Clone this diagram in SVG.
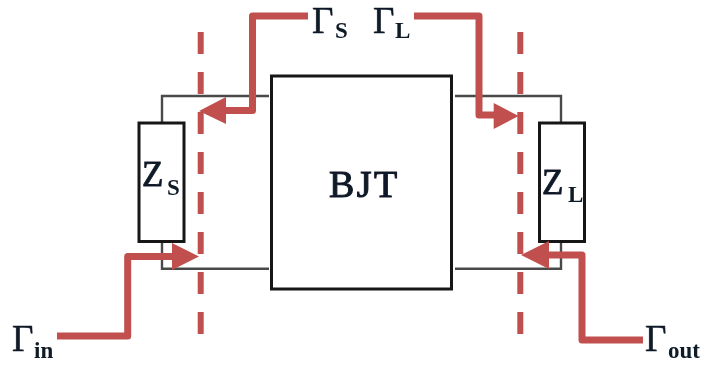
<svg xmlns="http://www.w3.org/2000/svg" width="702" height="366" viewBox="0 0 702 366">
<style>
.box{fill:#fff;stroke:#151515;stroke-width:3}
.wire{fill:none;stroke:#4a4a4a;stroke-width:2.4}
.dash{fill:none;stroke:#c0504d;stroke-width:6;stroke-dasharray:22 18}
.ray{fill:none;stroke:#c0504d;stroke-width:7;stroke-linejoin:round}
.head{fill:#c0504d}
text{font-family:"Liberation Serif","DejaVu Serif",serif;fill:#111a26}
.g{font-size:37px;stroke:#111a26;stroke-width:.5}
.z{font-size:35px;stroke:#111a26;stroke-width:.8}
.sub{font-size:23px;font-weight:700}
.bjt{font-size:38px;letter-spacing:2.4px;stroke:#111a26;stroke-width:1}
</style>
<defs><filter id="soft" x="-10%" y="-10%" width="120%" height="120%"><feGaussianBlur stdDeviation="0.6"/></filter></defs>
<g id="wires" filter="url(#soft)">
<path class="wire" d="M269 96H162V122M162 243V268.700H269"/>
<path class="wire" d="M455 96H561V122M561 243V268.700H455"/>
</g>
<g id="bjt" filter="url(#soft)"><rect class="box" x="271.500" y="76" width="180" height="213"/></g>
<g id="zs" filter="url(#soft)"><rect class="box" x="139" y="123" width="45" height="118.500"/></g>
<g id="zl" filter="url(#soft)"><rect class="box" x="539.500" y="123" width="45" height="118.500"/></g>
<g id="connectors" filter="url(#soft)">
<path class="dash" d="M200.700 32V336"/>
<path class="dash" d="M520.300 32V336"/>
<path class="ray" d="M308 16H252.500V110.500H222"/>
<polygon class="head" points="199,111 226,97 226,124"/>
<path class="ray" d="M414 16H479V115H497"/>
<polygon class="head" points="518.700,116 493.700,103 493.700,129"/>
<path class="ray" d="M57 336H127.700V256.500H176"/>
<polygon class="head" points="199,256.500 172,243 172,270"/>
<path class="ray" d="M643 340H582V255H545"/>
<polygon class="head" points="521,255 549,241 549,269"/>
</g>
<g id="labels" filter="url(#soft)">
<text class="bjt" x="329" y="197">BJT</text>
<text class="z" x="142" y="186">Z</text><text class="sub" x="167" y="195">S</text>
<text class="z" x="542" y="194">Z</text><text class="sub" x="568" y="202">L</text>
<text class="g" x="312" y="33">Γ</text><text class="sub" x="335" y="38">S</text>
<text class="g" x="373" y="33">Γ</text><text class="sub" x="395" y="38">L</text>
<text class="g" x="12" y="351">Γ</text><text class="sub" x="34" y="358">in</text>
<text class="g" x="645" y="351">Γ</text><text class="sub" x="668" y="358">out</text>
</g>
</svg>
